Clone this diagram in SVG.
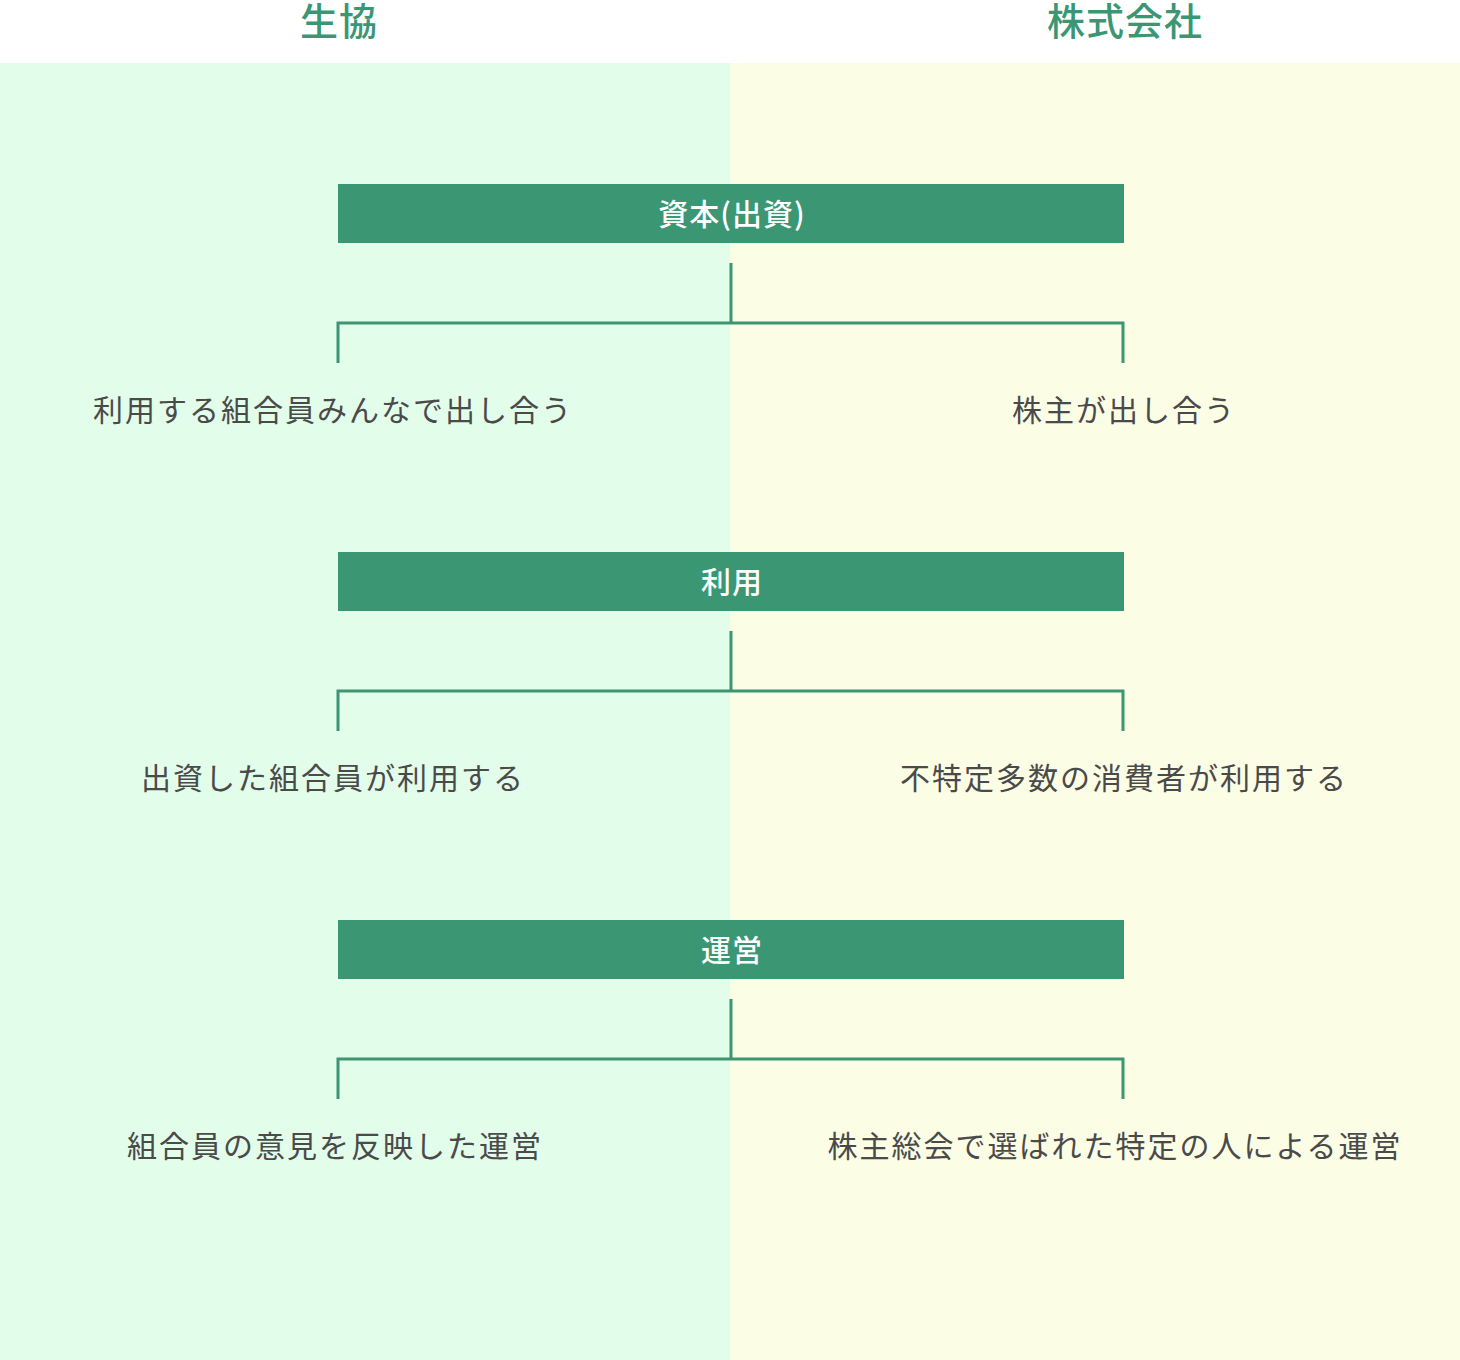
<svg xmlns="http://www.w3.org/2000/svg" width="1460" height="1360" viewBox="0 0 1460 1360">
<style>
.title{font-family:"Noto Sans CJK JP","Noto Sans",sans-serif;font-size:38px;font-weight:500;fill:#3b9673;text-anchor:middle;letter-spacing:1px}
.bar{fill:#3b9673}
.bt{font-family:"Noto Sans CJK JP","Noto Sans",sans-serif;font-size:30px;font-weight:500;fill:#ffffff;text-anchor:middle;dominant-baseline:central;letter-spacing:1px}
.t{font-family:"Noto Sans CJK JP","Noto Sans",sans-serif;font-size:30px;fill:#4a4a4a;text-anchor:middle;dominant-baseline:central;letter-spacing:2px}
.c{fill:none;stroke:#3b9673;stroke-width:3}
</style>
<rect width="1460" height="1360" fill="#ffffff"/>
<rect x="0" y="63" width="730" height="1297" fill="#e2fdea"/>
<rect x="730" y="63" width="730" height="1297" fill="#fbfde5"/>
<g id="title-left"><text class="title" x="339" y="35">生協</text></g>
<g id="title-right"><text class="title" x="1125" y="35">株式会社</text></g>
<g id="connectors">
<path class="c" d="M731,263 V323 M338,363 V323 H1123 V363"/>
<path class="c" d="M731,631 V691 M338,731 V691 H1123 V731"/>
<path class="c" d="M731,999 V1059 M338,1099 V1059 H1123 V1099"/>
</g>
<g id="bar1"><rect class="bar" x="338" y="184" width="786" height="59"/><text class="bt" x="732" y="212">資本(出資)</text></g>
<g id="bar2"><rect class="bar" x="338" y="552" width="786" height="59"/><text class="bt" x="732" y="580">利用</text></g>
<g id="bar3"><rect class="bar" x="338" y="920" width="786" height="59"/><text class="bt" x="732" y="948">運営</text></g>
<g id="text1l"><text class="t" x="333" y="408">利用する組合員みんなで出し合う</text></g>
<g id="text1r"><text class="t" x="1124" y="408">株主が出し合う</text></g>
<g id="text2l"><text class="t" x="333" y="776">出資した組合員が利用する</text></g>
<g id="text2r"><text class="t" x="1124" y="776">不特定多数の消費者が利用する</text></g>
<g id="text3l"><text class="t" x="335" y="1144">組合員の意見を反映した運営</text></g>
<g id="text3r"><text class="t" x="1115" y="1144">株主総会で選ばれた特定の人による運営</text></g>
</svg>
